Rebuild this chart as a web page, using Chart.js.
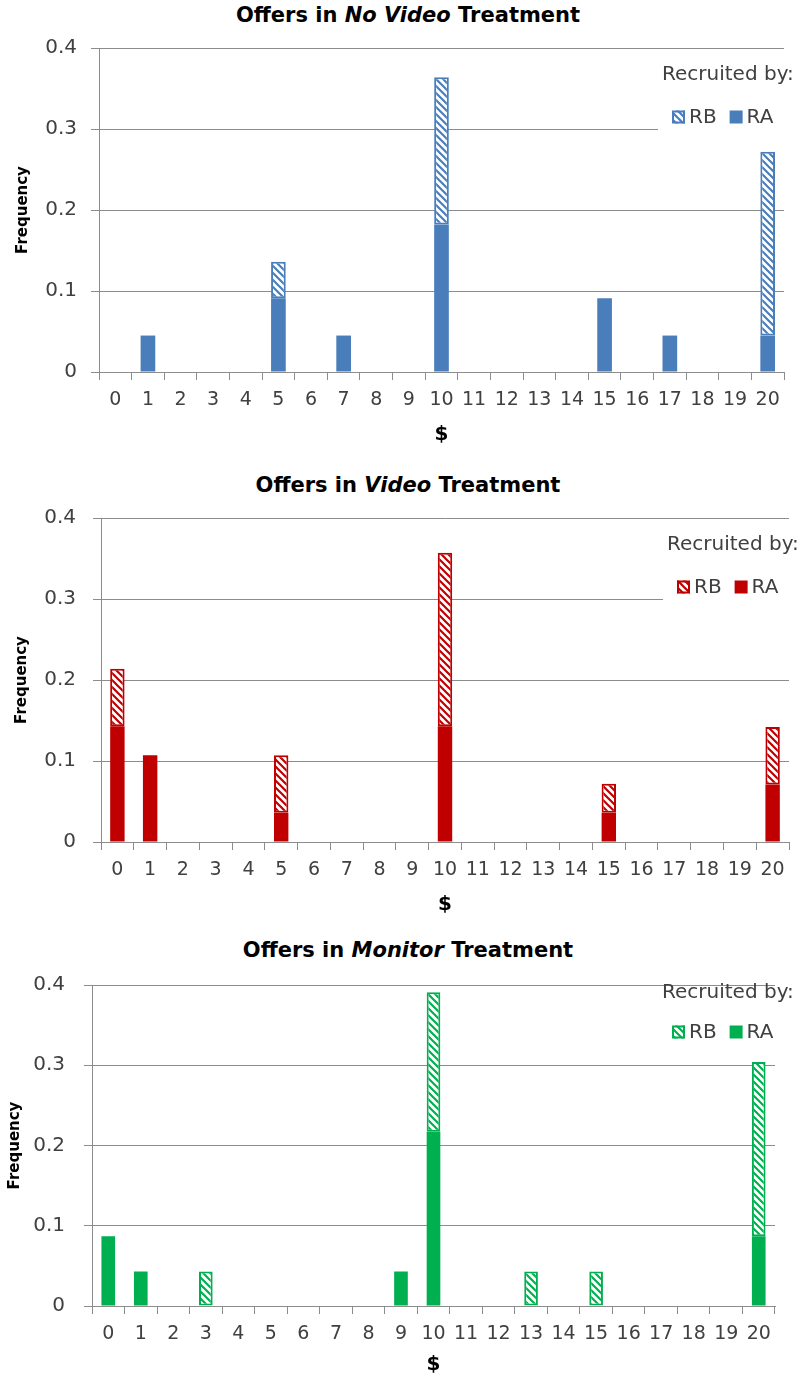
<!DOCTYPE html>
<html lang="en">
<head>
<meta charset="UTF-8">
<title>Offers by Treatment</title>
<script src="https://cdn.jsdelivr.net/npm/chart.js"></script>
<style>
  html, body { margin: 0; padding: 0; background: #fff; overflow: hidden; }
  body { width: 806px; height: 1379px; position: relative; font-family: "DejaVu Sans", sans-serif; }
  .titulo { position: absolute; left: 5px; width: 806px; text-align: center; font-weight: bold;
            font-size: 21px; line-height: 24px; color: #000; }
  .panel { position: absolute; left: 0; width: 806px; }
</style>
</head>
<body>
<div class="titulo" style="top:3px">Offers in <i>No Video</i> Treatment</div>
<div class="panel" style="top:28px;height:422px"><canvas id="g1"></canvas></div>

<div class="titulo" style="top:473px">Offers in <i>Video</i> Treatment</div>
<div class="panel" style="top:498px;height:422px"><canvas id="g2"></canvas></div>

<div class="titulo" style="top:938px">Offers in <i>Monitor</i> Treatment</div>
<div class="panel" style="top:965px;height:414px"><canvas id="g3"></canvas></div>

<script>
// offer amounts ($)
const offers = ['0','1','2','3','4','5','6','7','8','9','10',
                '11','12','13','14','15','16','17','18','19','20'];
const yTicks = [0, 0.1, 0.2, 0.3, 0.4];

// No Video treatment
const noVideoRA = [null, 0.045, null, null, null, 0.091, null, 0.045, null, null, 0.182,
                   null, null, null, null, 0.091, null, 0.045, null, null, 0.045];
const noVideoRB = [null, null, null, null, null, 0.045, null, null, null, null, 0.182,
                   null, null, null, null, null, null, null, null, null, 0.227];

// Video treatment
const videoRA = [0.143, 0.107, null, null, null, 0.036, null, null, null, null, 0.143,
                 null, null, null, null, 0.036, null, null, null, null, 0.071];
const videoRB = [0.071, null, null, null, null, 0.071, null, null, null, null, 0.214,
                 null, null, null, null, 0.036, null, null, null, null, 0.071];

// Monitor treatment
const monitorRA = [0.087, 0.043, null, null, null, null, null, null, null, 0.043, 0.217,
                   null, null, null, null, null, null, null, null, null, 0.087];
const monitorRB = [null, null, null, 0.043, null, null, null, null, null, null, 0.174,
                   null, null, 0.043, null, 0.043, null, null, null, null, 0.217];

const GRIS = '#8c8c8c';
const TEXTO = '#404040';

function rayado(color) {
    const c = document.createElement('canvas');
    c.width = 7; c.height = 7;
    const x = c.getContext('2d');
    x.fillStyle = '#fff';
    x.fillRect(0, 0, 7, 7);
    x.strokeStyle = color;
    x.lineWidth = 2.2;
    x.beginPath();
    [-7, 0, 7].forEach(k => {
        x.moveTo(-1, k - 1);
        x.lineTo(8, k + 8);
    });
    x.stroke();
    return x.createPattern(c, 'repeat');
}

// "Recruited by:" legend drawn inside the plot, over the grid
const leyendaRecluta = {
    id: 'leyendaRecluta',
    beforeDatasetsDraw(chart, args, opts) {
        const { ctx, chartArea } = chart;
        const tx = opts.x;
        const ty = chartArea.top + opts.textY;
        const ry = chartArea.top + opts.rowY;
        ctx.save();
        const boxTop = Math.max(ty - 14, chartArea.top + 2);
        ctx.fillStyle = '#fff';
        ctx.fillRect(tx - 4, boxTop, chart.width - tx + 4, ry + 14 - boxTop);

        ctx.font = '20px "DejaVu Sans"';
        ctx.fillStyle = TEXTO;
        ctx.textBaseline = 'middle';
        ctx.fillText('Recruited by:', tx, ty);

        let x = tx + 10;
        const items = chart.data.datasets.slice().reverse();
        items.forEach(ds => {
            const s = 13;
            ctx.fillStyle = ds.backgroundColor;
            ctx.fillRect(x, ry - s / 2, s, s);
            if (ds.borderWidth) {
                ctx.strokeStyle = ds.borderColor;
                ctx.lineWidth = 2;
                ctx.strokeRect(x + 1, ry - s / 2 + 1, s - 2, s - 2);
            }
            x += s + 4;
            ctx.fillStyle = TEXTO;
            ctx.fillText(ds.label, x, ry + 1);
            x += ctx.measureText(ds.label).width + 13;
        });
        ctx.restore();
    }
};

function crearGrafica(id, ra, rb, color, p) {
    const alto = document.getElementById(id).parentNode.clientHeight;
    return new Chart(document.getElementById(id), {
        type: 'bar',
        data: {
            labels: offers,
            datasets: [
                { label: 'RA', data: ra, backgroundColor: color, borderWidth: 0 },
                { label: 'RB', data: rb, backgroundColor: rayado(color), borderColor: color,
                  borderWidth: 2, borderSkipped: false }
            ]
        },
        options: {
            responsive: true,
            maintainAspectRatio: false,
            animation: false,
            categoryPercentage: 1,
            barPercentage: p.barra,
            layout: { padding: { top: p.top - p.canvasTop, right: 806 - p.right, left: 0, bottom: 0 } },
            plugins: {
                legend: { display: false },
                tooltip: { enabled: false },
                leyendaRecluta: { x: p.leyX, textY: p.leyTexto, rowY: p.leyFila }
            },
            scales: {
                x: {
                    stacked: true,
                    grid: { drawOnChartArea: false, color: GRIS, tickLength: 8 },
                    border: { color: GRIS, width: 1 },
                    ticks: { color: TEXTO, font: { family: 'DejaVu Sans', size: 19 },
                             padding: 9, autoSkip: false, maxRotation: 0 },
                    title: { display: true, text: '$', color: '#000',
                             font: { family: 'DejaVu Sans', size: 20, weight: 'bold' },
                             padding: { top: 0, bottom: p.dolarPad } },
                    afterFit: s => { s.height = alto - (p.bottom - p.canvasTop); }
                },
                y: {
                    stacked: true,
                    min: 0,
                    max: 0.4,
                    afterBuildTicks: s => { s.ticks = yTicks.map(v => ({ value: v })); },
                    grid: { color: GRIS, tickLength: 8 },
                    border: { color: GRIS, width: 1 },
                    ticks: { color: TEXTO, font: { family: 'DejaVu Sans', size: 20 },
                             padding: p.tickPad,
                             callback: v => v === 0 ? '0' : v.toFixed(1) },
                    title: { display: true, text: 'Frequency', color: '#000',
                             font: { family: 'DejaVu Sans', size: 15, weight: 'bold' },
                             padding: { top: p.freqPad, bottom: 0 } },
                    afterFit: s => {
                        s.width = p.left;
                        s.paddingTop = 0;
                        s.paddingBottom = 0;
                    }
                }
            }
        },
        plugins: [leyendaRecluta]
    });
}

crearGrafica('g1', noVideoRA, noVideoRB, '#4a7ebb', {
    canvasTop: 28, top: 48, bottom: 372, left: 99, right: 784,
    barra: 0.45, tickPad: 14, freqPad: 14, dolarPad: 3,
    leyX: 662, leyTexto: 27, leyFila: 69
});
crearGrafica('g2', videoRA, videoRB, '#c00000', {
    canvasTop: 498, top: 518, bottom: 842, left: 101, right: 789,
    barra: 0.44, tickPad: 17, freqPad: 13, dolarPad: 3,
    leyX: 667, leyTexto: 27, leyFila: 69
});
crearGrafica('g3', monitorRA, monitorRB, '#00b050', {
    canvasTop: 965, top: 985, bottom: 1306, left: 92, right: 775,
    barra: 0.42, tickPad: 19, freqPad: 6, dolarPad: 2,
    leyX: 662, leyTexto: 8, leyFila: 47
});
</script>
</body>
</html>
